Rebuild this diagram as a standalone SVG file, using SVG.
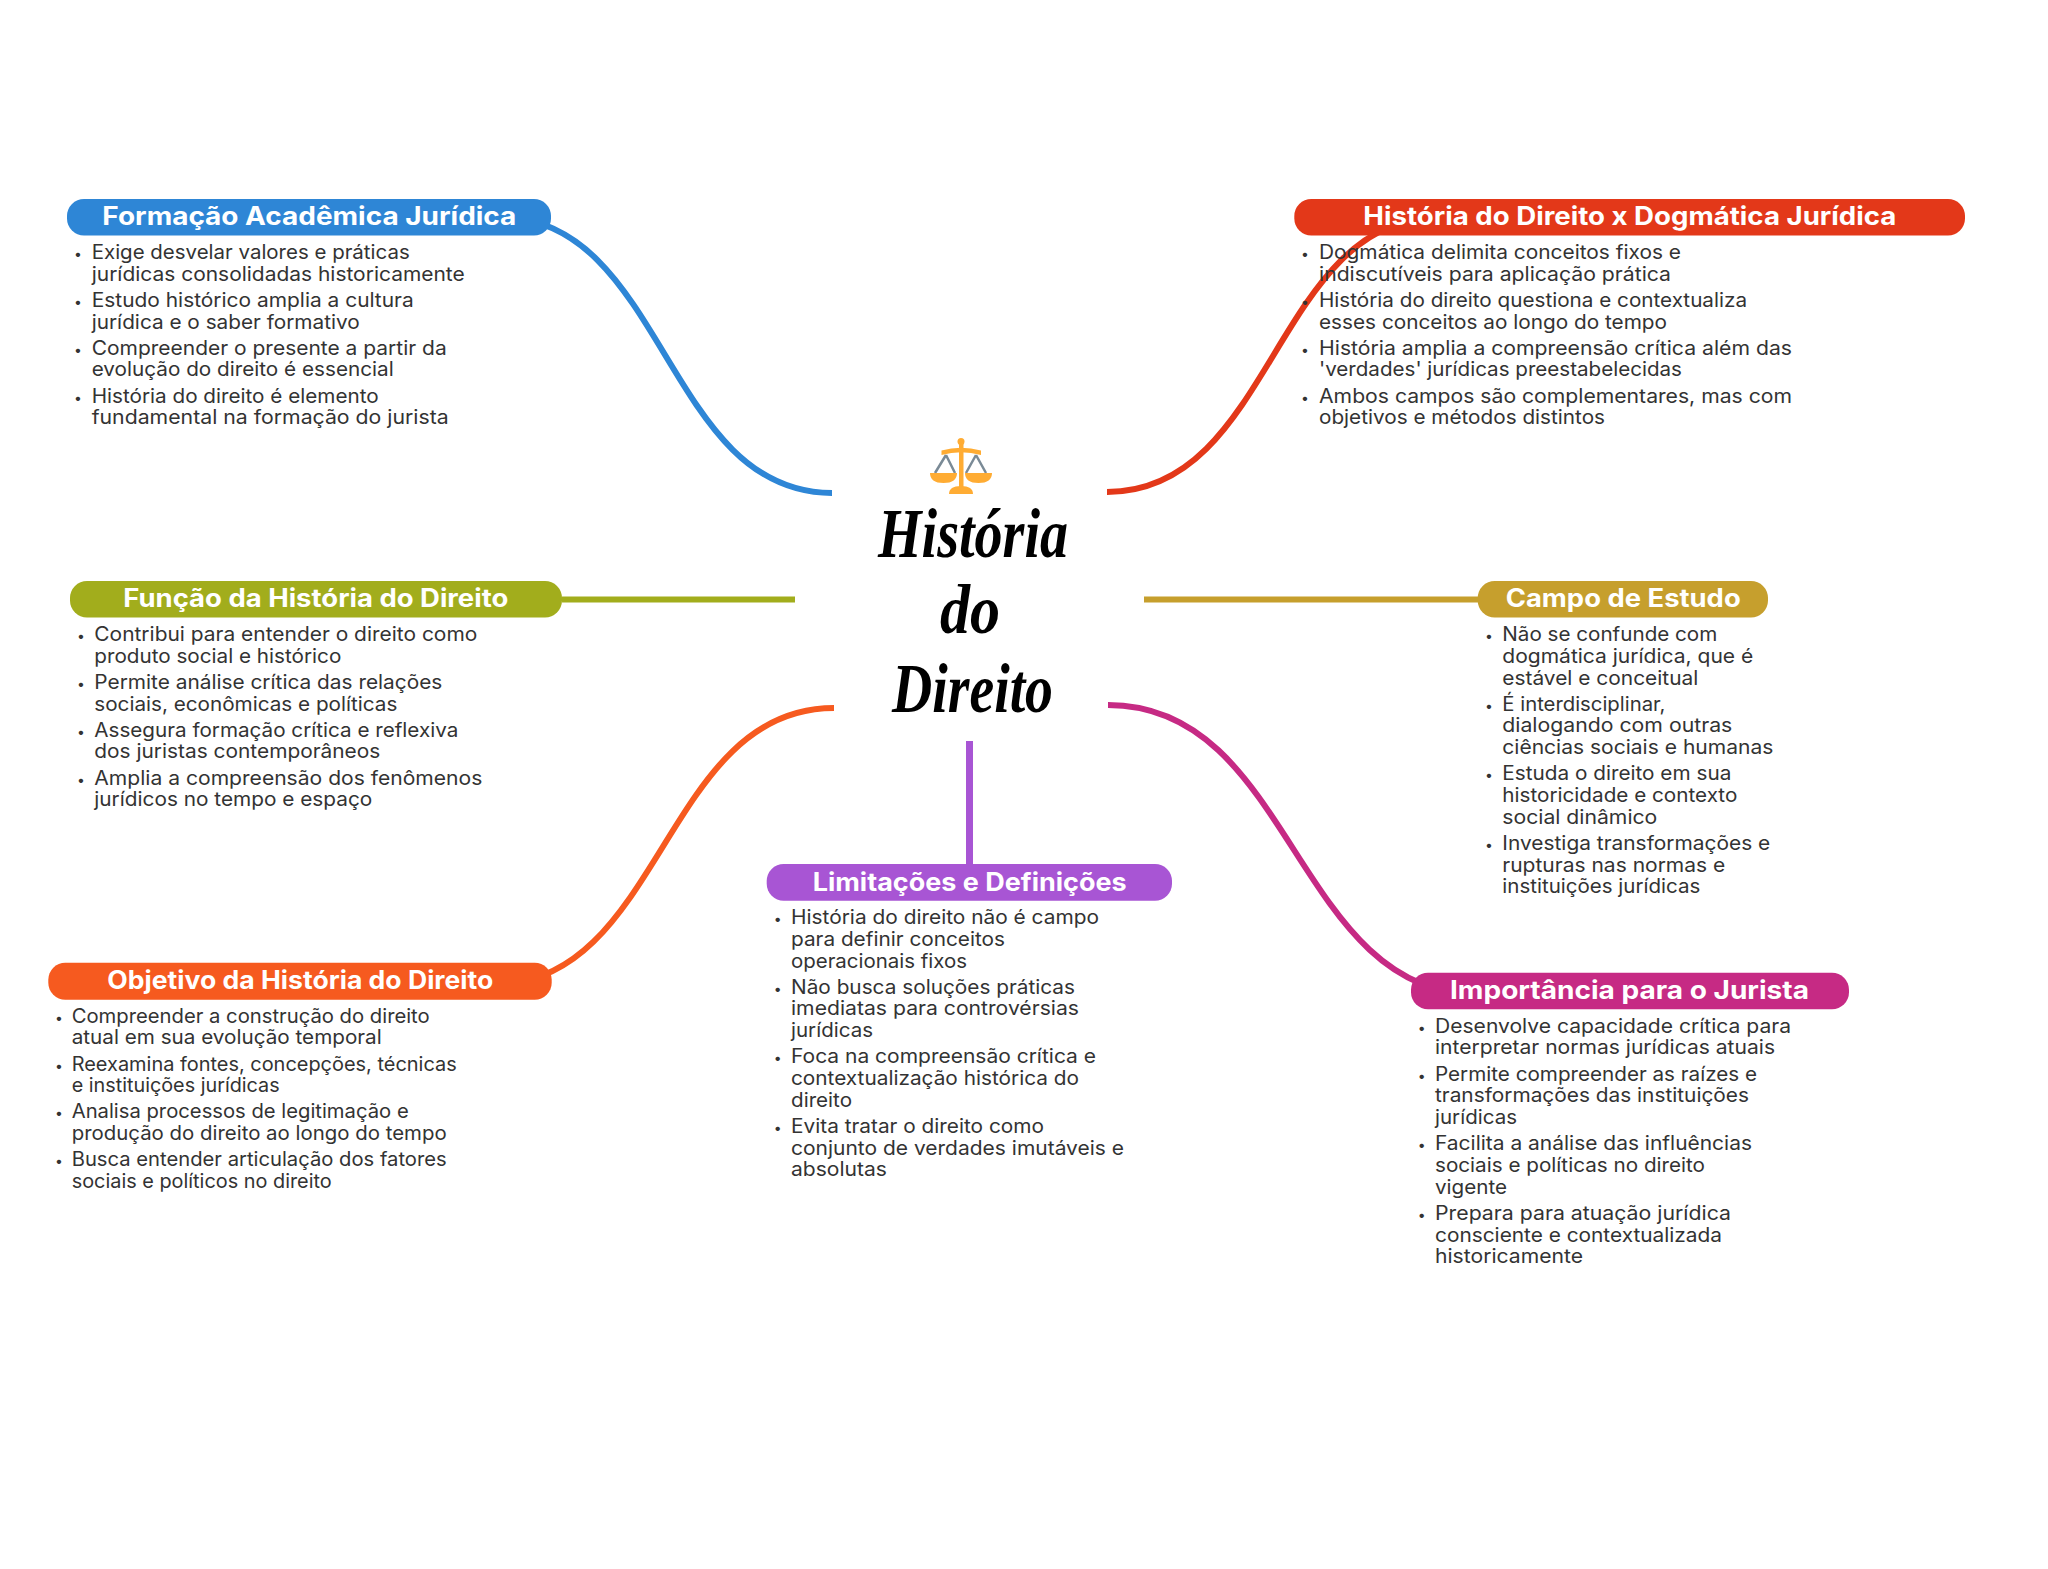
<svg xmlns="http://www.w3.org/2000/svg" width="2048" height="1569" viewBox="0 0 2048 1569">
<style>
.t{font-family:"Inter","Noto Sans",sans-serif;font-size:25px;font-weight:700;fill:#fff}
.l{font-family:"Inter","Noto Sans",sans-serif;font-size:19.5px;font-weight:400;fill:#333}
.b{font-family:"Inter","Noto Sans",sans-serif;font-size:14px;fill:#333;text-anchor:middle}
.h{font-family:"Liberation Serif",cursive;font-size:70px;font-style:italic;font-weight:700;fill:#000}
.c{fill:none;stroke-width:6}
</style>
<rect width="2048" height="1569" fill="#fff"/>
<g id="connectors">
<path class="c" stroke="#2E86D6" d="M832 493C665 493 665 217 499 217"/>
<path class="c" stroke="#E33819" d="M1107 492C1274 492 1274 217 1440 217"/>
<path class="c" stroke="#A2AD1C" d="M562 599.5H795"/>
<path class="c" stroke="#C69F2D" d="M1144 599.5H1478"/>
<path class="c" stroke="#F65A1F" d="M834 708C663 708 663 985 492 985"/>
<path class="c" stroke="#A855D4" stroke-width="7" style="stroke-width:7" d="M969.5 741V864"/>
<path class="c" stroke="#C62A84" d="M1108 705C1294 705 1294 995 1480 995"/>
</g>
<g id="center">
<g id="scales">
<path d="M946 455L935 473M946 455L955 473M976 455L966 473M976 455L986 473" stroke="#7A8A96" stroke-width="2.5" fill="none"/>
<rect x="959" y="442" width="4.5" height="46" fill="#FFAC33"/>
<circle cx="961" cy="441.5" r="3.5" fill="#FFAC33"/>
<path d="M941.5 450.5Q961 445 981 450.5V455Q961 449.5 941.5 455Z" fill="#FFAC33"/>
<path d="M930 473H957Q957 483 943.500 483Q930 483 930 473Z" fill="#FFAC33"/>
<path d="M965 473H992Q992 483 978.500 483Q965 483 965 473Z" fill="#FFAC33"/>
<path d="M949 494Q949 486 961 486Q973 486 973 494Z" fill="#FFAC33"/>
</g>
<text class="h" x="878" y="557" textLength="190" lengthAdjust="spacingAndGlyphs">História</text>
<text class="h" x="940" y="633" textLength="60" lengthAdjust="spacingAndGlyphs">do</text>
<text class="h" x="892" y="712" textLength="161" lengthAdjust="spacingAndGlyphs">Direito</text>
</g>
<g id="node-formacao">
<rect x="67" y="199" width="484" height="36.500" rx="17" fill="#2E86D6"/>
<text class="t" x="102.300" y="225" textLength="414" lengthAdjust="spacingAndGlyphs">Formação Acadêmica Jurídica</text>
<text class="b" x="78" y="259">•</text><text class="b" x="78" y="306.850">•</text><text class="b" x="78" y="354.700">•</text><text class="b" x="78" y="402.550">•</text>
<text class="l" x="91.700" y="259" textLength="318" lengthAdjust="spacingAndGlyphs">Exige desvelar valores e práticas</text>
<text class="l" x="91.700" y="280.750" textLength="373" lengthAdjust="spacingAndGlyphs">jurídicas consolidadas historicamente</text>
<text class="l" x="91.700" y="306.850" textLength="322" lengthAdjust="spacingAndGlyphs">Estudo histórico amplia a cultura</text>
<text class="l" x="91.700" y="328.600" textLength="268" lengthAdjust="spacingAndGlyphs">jurídica e o saber formativo</text>
<text class="l" x="91.700" y="354.700" textLength="355" lengthAdjust="spacingAndGlyphs">Compreender o presente a partir da</text>
<text class="l" x="91.700" y="376.450" textLength="302" lengthAdjust="spacingAndGlyphs">evolução do direito é essencial</text>
<text class="l" x="91.700" y="402.550" textLength="287" lengthAdjust="spacingAndGlyphs">História do direito é elemento</text>
<text class="l" x="91.700" y="424.300" textLength="357" lengthAdjust="spacingAndGlyphs">fundamental na formação do jurista</text>
</g>
<g id="node-dogmatica">
<rect x="1294.300" y="199" width="670.700" height="36.500" rx="17" fill="#E33819"/>
<text class="t" x="1363.300" y="225" textLength="533" lengthAdjust="spacingAndGlyphs">História do Direito x Dogmática Jurídica</text>
<text class="b" x="1305" y="259">•</text><text class="b" x="1305" y="306.850">•</text><text class="b" x="1305" y="354.700">•</text><text class="b" x="1305" y="402.550">•</text>
<text class="l" x="1319" y="259" textLength="362" lengthAdjust="spacingAndGlyphs">Dogmática delimita conceitos fixos e</text>
<text class="l" x="1319" y="280.750" textLength="352" lengthAdjust="spacingAndGlyphs">indiscutíveis para aplicação prática</text>
<text class="l" x="1319" y="306.850" textLength="428" lengthAdjust="spacingAndGlyphs">História do direito questiona e contextualiza</text>
<text class="l" x="1319" y="328.600" textLength="348" lengthAdjust="spacingAndGlyphs">esses conceitos ao longo do tempo</text>
<text class="l" x="1319" y="354.700" textLength="473" lengthAdjust="spacingAndGlyphs">História amplia a compreensão crítica além das</text>
<text class="l" x="1319" y="376.450" textLength="363" lengthAdjust="spacingAndGlyphs">'verdades' jurídicas preestabelecidas</text>
<text class="l" x="1319" y="402.550" textLength="473" lengthAdjust="spacingAndGlyphs">Ambos campos são complementares, mas com</text>
<text class="l" x="1319" y="424.300" textLength="286" lengthAdjust="spacingAndGlyphs">objetivos e métodos distintos</text>
</g>
<g id="node-funcao">
<rect x="70" y="581" width="492" height="36.500" rx="17" fill="#A2AD1C"/>
<text class="t" x="123.300" y="607" textLength="385" lengthAdjust="spacingAndGlyphs">Função da História do Direito</text>
<text class="b" x="81" y="641">•</text><text class="b" x="81" y="688.850">•</text><text class="b" x="81" y="736.700">•</text><text class="b" x="81" y="784.550">•</text>
<text class="l" x="94.300" y="641" textLength="383" lengthAdjust="spacingAndGlyphs">Contribui para entender o direito como</text>
<text class="l" x="94.300" y="662.750" textLength="247" lengthAdjust="spacingAndGlyphs">produto social e histórico</text>
<text class="l" x="94.300" y="688.850" textLength="348" lengthAdjust="spacingAndGlyphs">Permite análise crítica das relações</text>
<text class="l" x="94.300" y="710.600" textLength="303" lengthAdjust="spacingAndGlyphs">sociais, econômicas e políticas</text>
<text class="l" x="94.300" y="736.700" textLength="364" lengthAdjust="spacingAndGlyphs">Assegura formação crítica e reflexiva</text>
<text class="l" x="94.300" y="758.450" textLength="286" lengthAdjust="spacingAndGlyphs">dos juristas contemporâneos</text>
<text class="l" x="94.300" y="784.550" textLength="388" lengthAdjust="spacingAndGlyphs">Amplia a compreensão dos fenômenos</text>
<text class="l" x="94.300" y="806.300" textLength="278" lengthAdjust="spacingAndGlyphs">jurídicos no tempo e espaço</text>
</g>
<g id="node-campo">
<rect x="1477.700" y="581" width="290.300" height="36.500" rx="17" fill="#C69F2D"/>
<text class="t" x="1505.700" y="607" textLength="235" lengthAdjust="spacingAndGlyphs">Campo de Estudo</text>
<text class="b" x="1489" y="641">•</text><text class="b" x="1489" y="710.600">•</text><text class="b" x="1489" y="780.200">•</text><text class="b" x="1489" y="849.800">•</text>
<text class="l" x="1502.300" y="641" textLength="215" lengthAdjust="spacingAndGlyphs">Não se confunde com</text>
<text class="l" x="1502.300" y="662.750" textLength="251" lengthAdjust="spacingAndGlyphs">dogmática jurídica, que é</text>
<text class="l" x="1502.300" y="684.500" textLength="196" lengthAdjust="spacingAndGlyphs">estável e conceitual</text>
<text class="l" x="1502.300" y="710.600" textLength="163" lengthAdjust="spacingAndGlyphs">É interdisciplinar,</text>
<text class="l" x="1502.300" y="732.350" textLength="230" lengthAdjust="spacingAndGlyphs">dialogando com outras</text>
<text class="l" x="1502.300" y="754.100" textLength="271" lengthAdjust="spacingAndGlyphs">ciências sociais e humanas</text>
<text class="l" x="1502.300" y="780.200" textLength="229" lengthAdjust="spacingAndGlyphs">Estuda o direito em sua</text>
<text class="l" x="1502.300" y="801.950" textLength="235" lengthAdjust="spacingAndGlyphs">historicidade e contexto</text>
<text class="l" x="1502.300" y="823.700" textLength="155" lengthAdjust="spacingAndGlyphs">social dinâmico</text>
<text class="l" x="1502.300" y="849.800" textLength="268" lengthAdjust="spacingAndGlyphs">Investiga transformações e</text>
<text class="l" x="1502.300" y="871.550" textLength="223" lengthAdjust="spacingAndGlyphs">rupturas nas normas e</text>
<text class="l" x="1502.300" y="893.300" textLength="198" lengthAdjust="spacingAndGlyphs">instituições jurídicas</text>
</g>
<g id="node-objetivo">
<rect x="48.300" y="962.700" width="503.400" height="37" rx="17" fill="#F65A1F"/>
<text class="t" x="107.300" y="989" textLength="386" lengthAdjust="spacingAndGlyphs">Objetivo da História do Direito</text>
<text class="b" x="59" y="1022.700">•</text><text class="b" x="59" y="1070.550">•</text><text class="b" x="59" y="1118.400">•</text><text class="b" x="59" y="1166.250">•</text>
<text class="l" x="71.700" y="1022.700" textLength="358" lengthAdjust="spacingAndGlyphs">Compreender a construção do direito</text>
<text class="l" x="71.700" y="1044.450" textLength="310" lengthAdjust="spacingAndGlyphs">atual em sua evolução temporal</text>
<text class="l" x="71.700" y="1070.550" textLength="385" lengthAdjust="spacingAndGlyphs">Reexamina fontes, concepções, técnicas</text>
<text class="l" x="71.700" y="1092.300" textLength="208" lengthAdjust="spacingAndGlyphs">e instituições jurídicas</text>
<text class="l" x="71.700" y="1118.400" textLength="337" lengthAdjust="spacingAndGlyphs">Analisa processos de legitimação e</text>
<text class="l" x="71.700" y="1140.150" textLength="375" lengthAdjust="spacingAndGlyphs">produção do direito ao longo do tempo</text>
<text class="l" x="71.700" y="1166.250" textLength="375" lengthAdjust="spacingAndGlyphs">Busca entender articulação dos fatores</text>
<text class="l" x="71.700" y="1188" textLength="260" lengthAdjust="spacingAndGlyphs">sociais e políticos no direito</text>
</g>
<g id="node-limitacoes">
<rect x="766.700" y="864" width="405.300" height="36.700" rx="17" fill="#A855D4"/>
<text class="t" x="812.700" y="890.700" textLength="314" lengthAdjust="spacingAndGlyphs">Limitações e Definições</text>
<text class="b" x="777.700" y="924">•</text><text class="b" x="777.700" y="993.600">•</text><text class="b" x="777.700" y="1063.200">•</text><text class="b" x="777.700" y="1132.800">•</text>
<text class="l" x="791" y="924" textLength="308" lengthAdjust="spacingAndGlyphs">História do direito não é campo</text>
<text class="l" x="791" y="945.750" textLength="214" lengthAdjust="spacingAndGlyphs">para definir conceitos</text>
<text class="l" x="791" y="967.500" textLength="176" lengthAdjust="spacingAndGlyphs">operacionais fixos</text>
<text class="l" x="791" y="993.600" textLength="284" lengthAdjust="spacingAndGlyphs">Não busca soluções práticas</text>
<text class="l" x="791" y="1015.350" textLength="288" lengthAdjust="spacingAndGlyphs">imediatas para controvérsias</text>
<text class="l" x="791" y="1037.100" textLength="82" lengthAdjust="spacingAndGlyphs">jurídicas</text>
<text class="l" x="791" y="1063.200" textLength="305" lengthAdjust="spacingAndGlyphs">Foca na compreensão crítica e</text>
<text class="l" x="791" y="1084.950" textLength="288" lengthAdjust="spacingAndGlyphs">contextualização histórica do</text>
<text class="l" x="791" y="1106.700" textLength="61" lengthAdjust="spacingAndGlyphs">direito</text>
<text class="l" x="791" y="1132.800" textLength="253" lengthAdjust="spacingAndGlyphs">Evita tratar o direito como</text>
<text class="l" x="791" y="1154.550" textLength="333" lengthAdjust="spacingAndGlyphs">conjunto de verdades imutáveis e</text>
<text class="l" x="791" y="1176.300" textLength="96" lengthAdjust="spacingAndGlyphs">absolutas</text>
</g>
<g id="node-importancia">
<rect x="1411" y="972.700" width="438" height="36.600" rx="17" fill="#C62A84"/>
<text class="t" x="1450" y="999.300" textLength="359" lengthAdjust="spacingAndGlyphs">Importância para o Jurista</text>
<text class="b" x="1421.700" y="1032.700">•</text><text class="b" x="1421.700" y="1080.550">•</text><text class="b" x="1421.700" y="1150.150">•</text><text class="b" x="1421.700" y="1219.750">•</text>
<text class="l" x="1435" y="1032.700" textLength="356" lengthAdjust="spacingAndGlyphs">Desenvolve capacidade crítica para</text>
<text class="l" x="1435" y="1054.450" textLength="340" lengthAdjust="spacingAndGlyphs">interpretar normas jurídicas atuais</text>
<text class="l" x="1435" y="1080.550" textLength="322" lengthAdjust="spacingAndGlyphs">Permite compreender as raízes e</text>
<text class="l" x="1435" y="1102.300" textLength="314" lengthAdjust="spacingAndGlyphs">transformações das instituições</text>
<text class="l" x="1435" y="1124.050" textLength="82" lengthAdjust="spacingAndGlyphs">jurídicas</text>
<text class="l" x="1435" y="1150.150" textLength="317" lengthAdjust="spacingAndGlyphs">Facilita a análise das influências</text>
<text class="l" x="1435" y="1171.900" textLength="270" lengthAdjust="spacingAndGlyphs">sociais e políticas no direito</text>
<text class="l" x="1435" y="1193.650" textLength="72" lengthAdjust="spacingAndGlyphs">vigente</text>
<text class="l" x="1435" y="1219.750" textLength="296" lengthAdjust="spacingAndGlyphs">Prepara para atuação jurídica</text>
<text class="l" x="1435" y="1241.500" textLength="287" lengthAdjust="spacingAndGlyphs">consciente e contextualizada</text>
<text class="l" x="1435" y="1263.250" textLength="148" lengthAdjust="spacingAndGlyphs">historicamente</text>
</g>
</svg>
